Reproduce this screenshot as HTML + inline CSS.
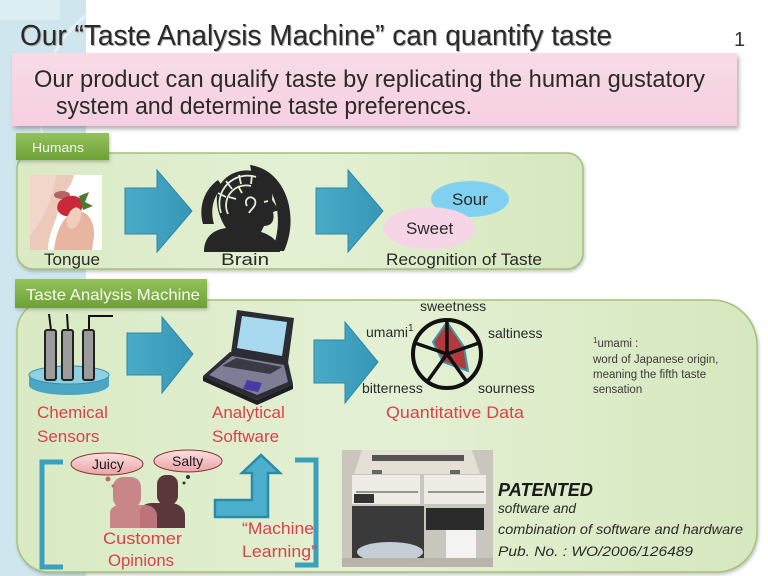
<!DOCTYPE html>
<html><head><meta charset="utf-8"><style>
html,body{margin:0;padding:0;background:#fff;}
svg{display:block;}
text{font-family:"Liberation Sans","DejaVu Sans",sans-serif;}
</style></head><body>
<svg width="768" height="576" viewBox="0 0 768 576" xmlns="http://www.w3.org/2000/svg">
<defs>
  <filter id="sh" x="-5%" y="-10%" width="115%" height="130%">
    <feDropShadow dx="2" dy="3" stdDeviation="2" flood-color="#555" flood-opacity="0.45"/>
  </filter>
  <filter id="sh2" x="-5%" y="-10%" width="115%" height="130%">
    <feDropShadow dx="1" dy="2" stdDeviation="1.5" flood-color="#666" flood-opacity="0.4"/>
  </filter>
  <linearGradient id="gbox" x1="0" y1="0" x2="1" y2="0">
    <stop offset="0" stop-color="#d9eac4"/><stop offset="0.5" stop-color="#e4f0d4"/><stop offset="1" stop-color="#d6e8bf"/>
  </linearGradient>
  <linearGradient id="gtab" x1="0" y1="0" x2="0" y2="1">
    <stop offset="0" stop-color="#93c25a"/><stop offset="1" stop-color="#6e9f38"/>
  </linearGradient>
  <linearGradient id="gpink" x1="0" y1="0" x2="0" y2="1">
    <stop offset="0" stop-color="#f8dbe7"/><stop offset="1" stop-color="#f5cfe0"/>
  </linearGradient>
  <linearGradient id="garr" x1="0" y1="0" x2="1" y2="0">
    <stop offset="0" stop-color="#4aabc8"/><stop offset="1" stop-color="#3697b6"/>
  </linearGradient>
  <linearGradient id="gbub" x1="0" y1="0" x2="0" y2="1">
    <stop offset="0" stop-color="#fbe0df"/><stop offset="1" stop-color="#e9a4a6"/>
  </linearGradient>
</defs>

<!-- left background strip -->
<rect x="0" y="0" width="86" height="576" fill="#cfe6ee"/>
<circle cx="160" cy="110" r="120" fill="none" stroke="#e4f2f6" stroke-width="3"/>
<rect x="86" y="0" width="682" height="576" fill="#ffffff"/>
<rect x="0" y="0" width="60" height="20" fill="#dceef3"/>

<!-- Title -->
<text x="21" y="46" font-size="29" fill="#a8a8a8" textLength="592" lengthAdjust="spacingAndGlyphs">Our “Taste Analysis Machine” can quantify taste</text>
<text x="20" y="45" font-size="29" fill="#2a2a2a" textLength="592" lengthAdjust="spacingAndGlyphs">Our “Taste Analysis Machine” can quantify taste</text>
<text x="734" y="46" font-size="20" fill="#333">1</text>

<!-- Pink box -->
<rect x="12" y="53" width="725" height="73" fill="url(#gpink)" filter="url(#sh)"/>
<text x="34" y="87" font-size="24" fill="#2a2a2a" textLength="671" lengthAdjust="spacingAndGlyphs">Our product can qualify taste by replicating the human gustatory</text>
<text x="56" y="114" font-size="24" fill="#2a2a2a" textLength="416" lengthAdjust="spacingAndGlyphs">system and determine taste preferences.</text>

<!-- Humans box -->
<rect x="17" y="153" width="566" height="116" rx="16" fill="url(#gbox)" stroke="#a3c276" stroke-width="1.5" filter="url(#sh2)"/>
<rect x="16" y="133" width="93" height="27" fill="url(#gtab)" filter="url(#sh2)"/>
<text x="32" y="152" font-size="13" fill="#f4f9ee" textLength="52" lengthAdjust="spacingAndGlyphs">Humans</text>

<!-- Tongue photo -->
<rect x="30" y="175" width="72" height="75" fill="#ffffff"/>
<path d="M30 175 L74 175 C72 184 68 190 62 194 C60 204 58 214 54 224 C50 234 48 242 48 250 L30 250 Z" fill="#ecc9ba"/>
<path d="M30 175 L56 175 C54 192 48 208 40 222 L30 236 Z" fill="#f2d6ca"/>
<ellipse cx="62" cy="195" rx="8" ry="4" fill="#b46464"/>
<ellipse cx="70" cy="206" rx="13" ry="10" fill="#c92a3a" transform="rotate(-15 70 206)"/>
<path d="M79 196 L89 192 L85 202 L93 206 L83 210 Z" fill="#4b7b2c"/>
<path d="M54 250 C56 232 62 218 73 212 C86 208 95 220 94 236 L92 250 Z" fill="#e8b5a0"/>
<ellipse cx="74" cy="218" rx="6.5" ry="11" fill="#f1cdbd" transform="rotate(20 74 218)"/>
<text x="44" y="265" font-size="17" fill="#2a2a2a" textLength="56" lengthAdjust="spacingAndGlyphs">Tongue</text>

<!-- arrows humans -->
<polygon points="125,188 157,188 157,170 192,211 157,252 157,234 125,234" fill="url(#garr)" stroke="#2e88a6" stroke-width="1"/>
<polygon points="316,188 348,188 348,170 383,211 348,252 348,234 316,234" fill="url(#garr)" stroke="#2e88a6" stroke-width="1"/>

<!-- Brain icon -->
<g fill="#262626">
  <path d="M250 165 C286 170 300 216 284 251 L272 251 C284 220 278 186 252 175 Z"/>
  <path d="M204 252 C204 238 212 230 226 228 C218 216 214 200 219 187 C227 170 252 165 265 177 C271 184 273 193 272 200 L279 210 L273 212 C275 220 272 226 264 226 L261 232 C274 236 280 244 280 252 Z"/>
  <path d="M203 224 C198 206 205 189 218 180 L223 187 C213 196 210 210 214 224 Z"/>
</g>
<g fill="none" stroke="#e4eedb" stroke-width="1.8">
  <path d="M228 214 A 20 20 0 0 1 251 186"/>
  <path d="M221 213 A 28 28 0 0 1 256 177"/>
  <path d="M226 197 L218 193"/><path d="M232 189 L226 181"/><path d="M241 184 L239 175"/><path d="M251 184 L252 175"/>
  <path d="M236 199 L229 197"/><path d="M242 193 L238 186"/>
  <path d="M247 206 C243 199 251 194 255 200 C257 206 251 209 249 213"/>
  <path d="M264 202 L268 201"/>
</g>
<text x="221" y="265" font-size="17" fill="#2a2a2a" textLength="48" lengthAdjust="spacingAndGlyphs">Brain</text>

<!-- Sour / Sweet -->
<ellipse cx="470" cy="199" rx="39" ry="18" fill="#7fd1ef"/>
<text x="452" y="205" font-size="17" fill="#2a2a2a">Sour</text>
<ellipse cx="429" cy="228" rx="46" ry="21" fill="#f6d6e6"/>
<text x="406" y="234" font-size="17" fill="#2a2a2a">Sweet</text>
<text x="386" y="265" font-size="17" fill="#2a2a2a" textLength="156" lengthAdjust="spacingAndGlyphs">Recognition of Taste</text>

<!-- Machine box -->
<path d="M49 300 L712 300 A45 45 0 0 1 757 345 L757 532 A40 40 0 0 1 717 572 L49 572 A32 32 0 0 1 17 540 L17 332 A32 32 0 0 1 49 300 Z" fill="url(#gbox)" stroke="#a3c276" stroke-width="1.5" filter="url(#sh2)"/>
<rect x="15" y="279" width="192" height="29" fill="url(#gtab)" filter="url(#sh2)"/>
<text x="26" y="300" font-size="16" fill="#f7fbf2" textLength="174" lengthAdjust="spacingAndGlyphs">Taste Analysis Machine</text>

<!-- Chemical sensors -->
<ellipse cx="69" cy="385" rx="40" ry="10" fill="#4aa6c2"/>
<rect x="29" y="375" width="80" height="10" fill="#4aa6c2"/>
<ellipse cx="69" cy="375" rx="40" ry="9" fill="#8fd0e3" stroke="#3a8fab" stroke-width="1"/>
<g stroke="#111" stroke-width="2" fill="none">
  <path d="M51 330 L49 314"/><path d="M68 330 L67 314"/><path d="M89 330 L89 316 L113 316"/>
</g>
<g fill="#9b9b9b" stroke="#222" stroke-width="2">
  <rect x="45" y="330" width="11" height="50" rx="2"/>
  <rect x="62" y="330" width="11" height="50" rx="2"/>
  <rect x="83" y="330" width="11" height="50" rx="2"/>
</g>
<text x="37" y="418" font-size="17" fill="#d8424a">Chemical</text>
<text x="37" y="442" font-size="17" fill="#d8424a">Sensors</text>

<!-- arrows machine -->
<polygon points="127,333 162,333 162,317 193,354 162,393 162,375 127,375" fill="url(#garr)" stroke="#2e88a6" stroke-width="1"/>
<polygon points="314,340 345,340 345,322 378,362 345,403 345,383 314,383" fill="url(#garr)" stroke="#2e88a6" stroke-width="1"/>

<!-- Laptop -->
<polygon points="237,310 294,318 288,363 231,353" fill="#2c2c34"/>
<polygon points="242,316 287,322 282,356 237,348" fill="#a9d9ee"/>
<polygon points="230,352 288,362 293,384 257,400 203,376" fill="#2c2c34"/>
<polygon points="232,356 284,365 288,382 257,395 209,375" fill="#7d7d95"/>
<polygon points="236,358 282,367 270,374 222,366" fill="#3a3a44"/>
<polygon points="247,380 262,383 258,392 243,389" fill="#4a3aa8"/>
<polygon points="203,376 257,400 293,384 293,389 257,405 203,381" fill="#1e1e24"/>
<text x="212" y="418" font-size="17" fill="#d8424a">Analytical</text>
<text x="212" y="442" font-size="17" fill="#d8424a">Software</text>

<!-- Radar -->
<polygon points="447,322 464,347 468,371 443,362 433,342" fill="#b23a3c" stroke="#3a98a8" stroke-width="2"/>
<circle cx="447" cy="354" r="34" fill="none" stroke="#111" stroke-width="4"/>
<g stroke="#111" stroke-width="3.5">
  <line x1="447" y1="354" x2="447" y2="320"/>
  <line x1="447" y1="354" x2="479" y2="343"/>
  <line x1="447" y1="354" x2="467" y2="382"/>
  <line x1="447" y1="354" x2="427" y2="382"/>
  <line x1="447" y1="354" x2="415" y2="343"/>
</g>
<g font-size="14" fill="#2a2a2a">
  <text x="420" y="311">sweetness</text>
  <text x="366" y="337">umami<tspan font-size="10" dy="-6">1</tspan></text>
  <text x="488" y="338">saltiness</text>
  <text x="362" y="393">bitterness</text>
  <text x="478" y="393">sourness</text>
</g>
<text x="386" y="418" font-size="17" fill="#d8424a" textLength="138" lengthAdjust="spacingAndGlyphs">Quantitative Data</text>

<!-- footnote -->
<g font-size="11.5" fill="#3a3a3a">
  <text x="593" y="347"><tspan font-size="8" dy="-4">1</tspan><tspan dy="4">umami :</tspan></text>
  <text x="593" y="363">word of Japanese origin,</text>
  <text x="593" y="378">meaning the fifth taste</text>
  <text x="593" y="393">sensation</text>
</g>

<!-- Brackets -->
<path d="M63 462 L42 462 L42 567 L63 567" fill="none" stroke="#3aa0bd" stroke-width="5"/>
<path d="M295 460 L316 460 L316 565 L295 565" fill="none" stroke="#3aa0bd" stroke-width="5"/>

<!-- Customer opinions -->
<g fill="#5b373b">
  <rect x="157" y="475" width="21" height="30" rx="9"/>
  <path d="M140 528 L140 512 C140 506 146 503 152 503 L170 503 C178 503 185 508 185 515 L185 528 Z"/>
</g>
<g fill="#c77b81" opacity="0.9">
  <rect x="113" y="477" width="28" height="31" rx="10"/>
  <path d="M110 528 L110 513 C110 508 115 505 120 505 L145 505 C152 505 157 510 157 516 L157 528 Z"/>
</g>
<circle cx="108" cy="479" r="2.5" fill="#b86a70"/><circle cx="113" cy="486" r="1.5" fill="#b86a70"/>
<circle cx="188" cy="477" r="2" fill="#333"/><circle cx="184" cy="483" r="1.5" fill="#333"/>
<ellipse cx="107" cy="464" rx="36" ry="11" fill="url(#gbub)" stroke="#8a3434" stroke-width="1"/>
<text x="92" y="469" font-size="14" fill="#1a1a1a">Juicy</text>
<ellipse cx="188" cy="461" rx="34" ry="11" fill="url(#gbub)" stroke="#8a3434" stroke-width="1"/>
<text x="172" y="466" font-size="14" fill="#1a1a1a">Salty</text>
<text x="103" y="544" font-size="17" fill="#d8424a" textLength="79" lengthAdjust="spacingAndGlyphs">Customer</text>
<text x="108" y="566" font-size="17" fill="#d8424a" textLength="66" lengthAdjust="spacingAndGlyphs">Opinions</text>

<!-- Bent arrow -->
<polygon points="215,500 252,500 252,473 242,473 261,455 280,473 268,473 268,517 215,517" fill="#4cafcb" stroke="#2a8aa8" stroke-width="2.5"/>
<text x="242" y="534" font-size="17" fill="#d8424a" textLength="72" lengthAdjust="spacingAndGlyphs">“Machine</text>
<text x="242" y="557" font-size="17" fill="#d8424a" textLength="75" lengthAdjust="spacingAndGlyphs">Learning”</text>

<!-- Machine photo -->
<rect x="342" y="450" width="151" height="117" fill="#c9c6bd"/>
<polygon points="362,450 472,450 480,474 354,474" fill="#e4e0d6"/>
<rect x="372" y="455" width="92" height="6" fill="#555"/>
<rect x="372" y="470" width="10" height="4" fill="#666"/><rect x="450" y="470" width="10" height="4" fill="#666"/>
<rect x="352" y="475" width="68" height="29" fill="#efece5"/>
<rect x="424" y="475" width="62" height="29" fill="#efece5"/>
<line x1="356" y1="492" x2="418" y2="492" stroke="#777" stroke-width="1.5"/>
<line x1="428" y1="492" x2="484" y2="492" stroke="#777" stroke-width="1.5"/>
<rect x="354" y="494" width="20" height="9" fill="#333"/>
<rect x="352" y="506" width="72" height="52" fill="#3a3a3a"/>
<ellipse cx="390" cy="552" rx="33" ry="10" fill="#c5cdd6"/>
<rect x="426" y="508" width="58" height="22" fill="#2b2b2b"/>
<rect x="446" y="530" width="30" height="28" fill="#f3f3f1"/>
<rect x="342" y="558" width="151" height="9" fill="#b8b4aa"/>

<!-- Patent text -->
<text x="498" y="496" font-size="18" font-weight="bold" font-style="italic" fill="#1a1a1a" textLength="95" lengthAdjust="spacingAndGlyphs">PATENTED</text>
<text x="498" y="513" font-size="14" font-style="italic" fill="#2a2a2a" textLength="78" lengthAdjust="spacingAndGlyphs">software and</text>
<text x="498" y="534" font-size="14" font-style="italic" fill="#2a2a2a" textLength="245" lengthAdjust="spacingAndGlyphs">combination of software and hardware</text>
<text x="498" y="556" font-size="14" font-style="italic" fill="#2a2a2a" textLength="195" lengthAdjust="spacingAndGlyphs">Pub. No. : WO/2006/126489</text>
</svg>
</body></html>
